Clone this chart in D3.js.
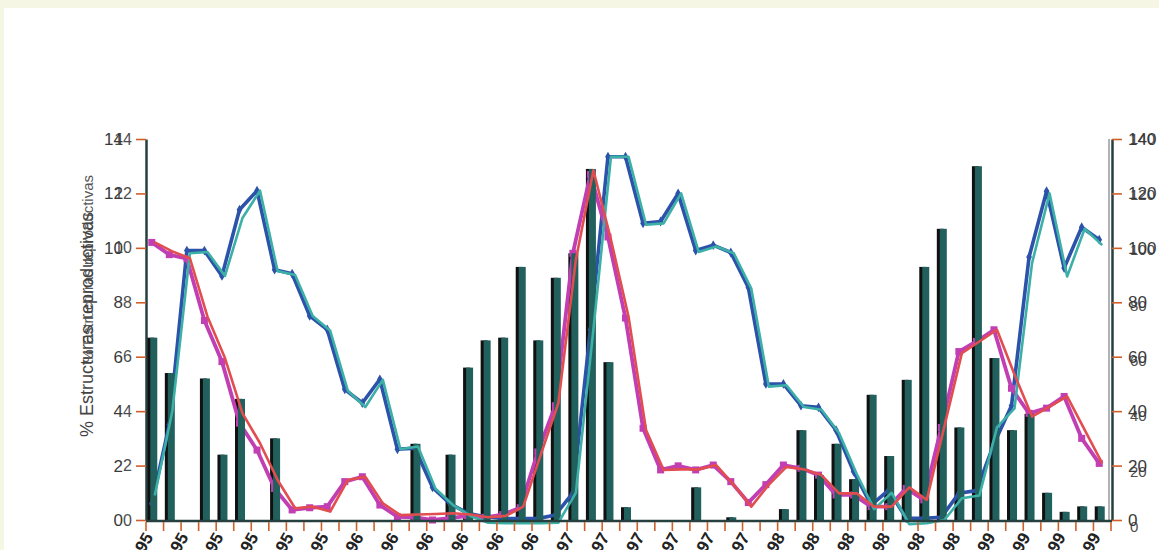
<!DOCTYPE html>
<html><head><meta charset="utf-8">
<script src="https://cdn.jsdelivr.net/npm/d3@7"></script>
<style>
html,body{margin:0;padding:0;background:#f5f6e3;overflow:hidden}
svg{display:block}
text{font-family:"Liberation Sans",Arial,sans-serif}
</style>
</head><body>
<svg id="c" width="1159" height="550"></svg>
<script>
// ---------- data ----------
const categories = [
  "ene-95","feb-95","mar-95","abr-95","may-95","jun-95","jul-95","ago-95","sep-95","oct-95","nov-95","dic-95",
  "ene-96","feb-96","mar-96","abr-96","may-96","jun-96","jul-96","ago-96","sep-96","oct-96","nov-96","dic-96",
  "ene-97","feb-97","mar-97","abr-97","may-97","jun-97","jul-97","ago-97","sep-97","oct-97","nov-97","dic-97",
  "ene-98","feb-98","mar-98","abr-98","may-98","jun-98","jul-98","ago-98","sep-98","oct-98","nov-98","dic-98",
  "ene-99","feb-99","mar-99","abr-99","may-99","jun-99","jul-99"
];
// bars (right axis)
const barValues = [
  67,54,0,52,24,44.5,0,30,0,0,0,0,0,0,0,28,0,24,56,66,
  67,93,66,89,98,129,58,4.7,0,0,0,12,0,1,0,0,4,33,16.5,28,
  15,46,23.5,51.5,93,107,34,130,59.5,33,39,10,3,5,5
];
// lines (left axis)
const blueValues = [
  0.6,3.5,9.9,9.9,8.97,11.4,12.1,9.2,9.05,7.5,7.0,4.8,4.3,5.17,2.6,2.64,1.2,0.6,0.25,0.12,
  0.06,0.05,0.05,0.18,1.0,7.0,13.35,13.35,10.9,10.97,12.0,9.9,10.1,9.83,8.55,5.0,5.0,4.2,4.14,3.3,
  1.78,0.55,1.1,0.06,0.06,0.1,0.98,1.08,2.8,4.2,9.66,12.08,9.26,10.76,10.3
];
const tealValues = [
  0.9,4.0,9.8,9.85,8.97,11.1,12.1,9.15,9.0,7.5,6.95,4.75,4.15,5.15,2.6,2.7,1.15,0.55,0.15,-0.1,
  -0.12,-0.12,-0.12,-0.1,1.0,7.0,13.35,13.35,10.85,10.9,12.0,9.85,10.05,9.8,8.5,4.9,4.95,4.15,4.05,3.2,
  1.7,0.4,1.0,-0.15,-0.12,0.0,0.8,0.9,3.4,4.1,9.44,12.0,8.95,10.7,10.1
];
const magentaValues = [
  10.2,9.75,9.6,7.33,5.82,3.56,2.57,1.16,0.37,0.45,0.49,1.41,1.59,0.55,0.12,0.1,0.0,0.07,0.15,0.1,
  0.2,0.45,2.5,4.2,9.8,12.7,10.4,7.42,3.37,1.84,1.99,1.84,2.02,1.41,0.64,1.3,2.02,1.9,1.65,0.92,
  0.92,0.49,0.49,1.16,0.74,3.4,6.19,6.56,6.99,4.84,3.92,4.11,4.54,3.0,2.08
];
const redValues = [
  10.2,9.87,9.62,7.48,5.95,3.92,2.82,1.47,0.43,0.49,0.31,1.47,1.59,0.61,0.18,0.2,0.22,0.25,0.2,0.1,
  0.15,0.49,2.4,4.29,9.56,12.85,10.3,7.48,3.31,1.84,1.86,1.86,2.02,1.29,0.49,1.3,1.95,1.86,1.65,0.98,
  0.98,0.49,0.49,1.2,0.74,3.43,6.13,6.56,6.99,5.35,3.8,4.17,4.54,3.31,2.08
];
const leftTicks = [0,2,4,6,8,10,12,14];
const rightTicks = [0,20,40,60,80,100,120,140];
const yLabel = "% Estructuras reproductivas";

// ---------- drawing ----------
const svg = d3.select("#c");
const W = 1159, H = 550;
const ORANGE = "#cf5f2a", AXIS = "#26403f", TXT = "#3a3a3a";

svg.append("rect").attr("x",0).attr("y",0).attr("width",W).attr("height",H).attr("fill","#f5f6e3");
svg.append("rect").attr("x",4).attr("y",8).attr("width",W-4).attr("height",H-8).attr("fill","#ffffff");

const x = d3.scaleBand().domain(categories).range([146,1111]).padding(0);
const yL = d3.scaleLinear().domain([0,14]).range([520,139]);
const yR = d3.scaleLinear().domain([0,140]).range([520,139]);
const yR2 = d3.scaleLinear().domain([0,140]).range([527,139]);
const bw = x.bandwidth();
const cx = d => x(d) + bw/2;

// y label (doubled)
svg.append("text").attr("transform","translate(93,437) rotate(-90)")
  .attr("text-anchor","start").attr("font-size",18).attr("fill","#444").text(yLabel);
svg.append("text").attr("transform","translate(93,175) rotate(-90)")
  .attr("text-anchor","end").attr("font-size",15).attr("fill","#444").attr("opacity",0.9).text(yLabel);

// left axis
const gL = svg.append("g").attr("transform","translate(146,0)")
  .call(d3.axisLeft(yL).tickValues(leftTicks).tickSize(10).tickPadding(13).tickSizeOuter(0));
gL.select(".domain").attr("stroke",AXIS).attr("stroke-width",2.5);
gL.selectAll(".tick line").attr("stroke",ORANGE).attr("stroke-width",1.6);
gL.selectAll(".tick text").attr("font-size",17).attr("fill",TXT).style("font-family","Liberation Sans, Arial");
const gL2 = svg.append("g").attr("transform","translate(146,0)")
  .call(d3.axisLeft(yL).tickValues(leftTicks).tickSize(0).tickPadding(14));
gL2.select(".domain").remove();
gL2.selectAll(".tick text").attr("font-size",16).attr("fill",TXT).attr("opacity",0.9).style("font-family","Liberation Sans, Arial");

// right axis
svg.append("line").attr("x1",1109).attr("x2",1109).attr("y1",yR(140)).attr("y2",522)
  .attr("stroke","#9a9a9a").attr("stroke-width",1.5);
const gR = svg.append("g").attr("transform","translate(1112,0)")
  .call(d3.axisRight(yR).tickValues(rightTicks).tickSize(10).tickPadding(6).tickSizeOuter(0));
gR.select(".domain").attr("stroke",AXIS).attr("stroke-width",2.5);
gR.selectAll(".tick line").attr("stroke",ORANGE).attr("stroke-width",1.6);
gR.selectAll(".tick text").attr("font-size",17).attr("fill",TXT).style("font-family","Liberation Sans, Arial");
const gR2 = svg.append("g").attr("transform","translate(1112,0)")
  .call(d3.axisRight(yR2).tickValues(rightTicks).tickSize(0).tickPadding(18));
gR2.select(".domain").remove();
gR2.selectAll(".tick text").attr("font-size",15).attr("fill",TXT).attr("opacity",0.9).style("font-family","Liberation Sans, Arial");

// bars: shadow (first layer) and green (second layer)
const gA = svg.append("g").attr("transform","translate(-3,0)");
const gB = svg.append("g");
gA.selectAll("rect.bs").data(categories).join("rect").attr("class","bs")
  .attr("x",d=>cx(d)-4.5).attr("width",7)
  .attr("y",(d,i)=>yR(barValues[i])).attr("height",(d,i)=>yR(0)+2-yR(barValues[i]))
  .attr("fill","#111111").attr("opacity",(d,i)=>barValues[i]>0?1:0);
gB.selectAll("rect.bg").data(categories).join("rect").attr("class","bg")
  .attr("x",d=>cx(d)-4.5).attr("width",7)
  .attr("y",(d,i)=>yR(barValues[i])).attr("height",(d,i)=>yR(0)+2-yR(barValues[i]))
  .attr("fill","#22605d").attr("opacity",(d,i)=>barValues[i]>0?1:0);

// bottom axis
svg.append("line").attr("x1",146).attr("x2",1112).attr("y1",521).attr("y2",521)
  .attr("stroke",AXIS).attr("stroke-width",2.5);
const bounds = categories.map(d=>x(d)).concat([x.range()[1]]);
svg.append("g").selectAll("line").data(bounds).join("line")
  .attr("x1",d=>d).attr("x2",d=>d).attr("y1",522).attr("y2",531)
  .attr("stroke",ORANGE).attr("stroke-width",1.6);
svg.append("g").selectAll("text").data(categories.filter((d,i)=>i%2===0)).join("text")
  .attr("transform",d=>`translate(${cx(d)-1},537) rotate(-60)`)
  .attr("text-anchor","end").attr("font-size",17).attr("font-weight","bold")
  .attr("fill","#222").text(d=>d);

// lines
function drawLine(g, vals, color, width) {
  const line = d3.line().x((d,i)=>cx(categories[i])).y(d=>yL(d));
  g.append("path").datum(vals).attr("d",line).attr("fill","none")
    .attr("stroke",color).attr("stroke-width",width).attr("stroke-linejoin","round");
}
// series A (blue + magenta with markers)
drawLine(gA, blueValues, "#2c52aa", 3.6);
gA.append("g").selectAll("path").data(blueValues).join("path")
  .attr("transform",(d,i)=>`translate(${cx(categories[i])},${yL(d)})`)
  .attr("d",d3.symbol().type(d3.symbolDiamond).size(28)).attr("fill","#2c52aa");
// series B teal
drawLine(gB, tealValues, "#3cb0a7", 2.6);
// magenta
drawLine(gA, magentaValues, "#c13fb3", 3.8);
gA.append("g").selectAll("rect").data(magentaValues).join("rect")
  .attr("x",(d,i)=>cx(categories[i])-3.5).attr("y",d=>yL(d)-3.5)
  .attr("width",7).attr("height",7).attr("fill","#c13fb3");
// red
drawLine(gB, redValues, "#e24d50", 2.6);
</script>
</body></html>
